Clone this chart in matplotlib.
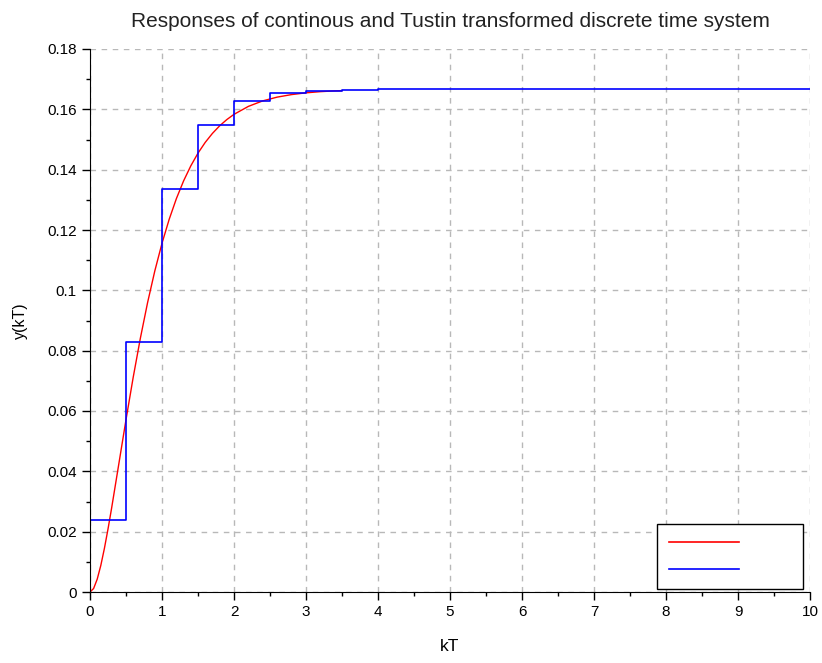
import matplotlib
matplotlib.use("Agg")
from matplotlib import pyplot as plt
from matplotlib.lines import Line2D
from matplotlib.ticker import MultipleLocator

# continuous response (red)
t_cont = [0.0, 0.05, 0.1, 0.15, 0.2, 0.25, 0.3, 0.4, 0.5, 0.6, 0.7, 0.8, 0.9, 1.0,
          1.1, 1.2, 1.3, 1.4, 1.5, 1.6, 1.7, 1.8, 1.9, 2.0,
          2.2, 2.4, 2.6, 2.8, 3.0, 3.2, 3.4, 3.5]
y_cont = [0.0, 0.00115, 0.00424, 0.00880, 0.01445, 0.02086, 0.02778, 0.04241, 0.05711, 0.07117,
          0.08419, 0.09596, 0.10642, 0.11560,
          0.12356, 0.13042, 0.13628, 0.14126, 0.14548, 0.14903, 0.15201, 0.15452, 0.15660, 0.15834,
          0.16098, 0.16281, 0.16405, 0.16489, 0.16547, 0.16586, 0.16612, 0.16621]

# Tustin discrete samples (blue stairs), T = 0.5
t_disc = [0.0, 0.5, 1.0, 1.5, 2.0, 2.5, 3.0, 3.5, 4.0, 4.5, 5.0,
          5.5, 6.0, 6.5, 7.0, 7.5, 8.0, 8.5, 9.0, 9.5, 10.0]
y_disc = [0.02381, 0.08277, 0.13352, 0.15488, 0.16263, 0.16531, 0.16621, 0.16651, 0.16661, 0.16665, 0.16666,
          0.16667, 0.16667, 0.16667, 0.16667, 0.16667, 0.16667, 0.16667, 0.16667, 0.16667, 0.16667]

y_ticks = [0, 0.02, 0.04, 0.06, 0.08, 0.1, 0.12, 0.14, 0.16, 0.18]
y_tick_labels = ['0', '0.02', '0.04', '0.06', '0.08', '0.1', '0.12', '0.14', '0.16', '0.18']

plt.rcParams['font.family'] = ['Liberation Sans', 'DejaVu Sans']

fig = plt.figure(figsize=(8.22, 6.63), dpi=100)
ax = fig.add_axes([90 / 822, 71 / 663, 720 / 822, 543 / 663])

ax.plot(t_cont, y_cont, color='red', lw=1)
ax.step(t_disc, y_disc, where='post', color='blue', lw=1.2)

ax.set_xlim(0, 10)
ax.set_ylim(0, 0.18)
ax.xaxis.set_major_locator(MultipleLocator(1))
ax.xaxis.set_minor_locator(MultipleLocator(0.5))
ax.set_yticks(y_ticks)
ax.set_yticklabels(y_tick_labels)
ax.yaxis.set_minor_locator(MultipleLocator(0.01))
ax.tick_params(which='major', direction='out', length=6, width=1, labelsize=11)
ax.tick_params(which='minor', direction='out', length=3, width=1)

ax.spines['top'].set_visible(False)
ax.spines['right'].set_visible(False)
ax.grid(True, which='major', color='#b8b8b8', linestyle=(0, (4, 4)), lw=1)

ax.set_title("Responses of continous and Tustin transformed discrete time system",
             fontsize=15, pad=16, color='#222222')
ax.set_xlabel("kT", fontsize=12.5, labelpad=14)
ax.set_ylabel("y(kT)", fontsize=11.5, labelpad=14)

handles = [Line2D([], [], color='red', lw=1.2), Line2D([], [], color='blue', lw=1.2)]
leg = ax.legend(handles, ['', ''], loc='lower right', bbox_to_anchor=(0.99, 0.005),
                handlelength=5.0, fontsize=10, frameon=True, fancybox=False,
                borderpad=0.9, labelspacing=0.9, handletextpad=3.7, borderaxespad=0)
leg.get_frame().set_edgecolor('black')
leg.get_frame().set_linewidth(1)
leg.get_frame().set_alpha(1)

fig.savefig("out.png", dpi=100)
